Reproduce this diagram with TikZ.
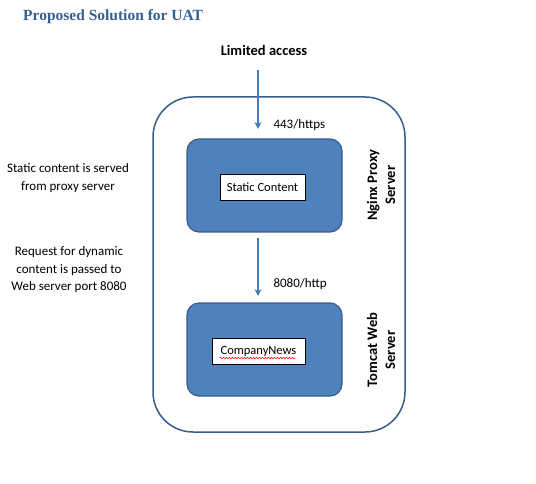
\documentclass[tikz,border=0pt]{standalone}
\usepackage{fontspec}
\setmainfont{Carlito}
\newfontfamily\titlefont{Liberation Serif}
\usetikzlibrary{arrows.meta,positioning,decorations.pathmorphing}
\definecolor{officeblue}{RGB}{79,129,189}
\definecolor{darkblue}{RGB}{56,93,138}
\definecolor{arrowblue}{RGB}{74,126,187}
\definecolor{titleblue}{RGB}{54,95,145}

\begin{document}
\begin{tikzpicture}[x=1pt,y=-1pt,
    server/.style={draw=darkblue,line width=1.2pt,fill=officeblue,rounded corners=12pt,minimum width=155pt,minimum height=93pt},
    content/.style={draw=black,line width=0.8pt,fill=white,minimum height=26pt,inner sep=0pt,font=\fontsize{12.5}{14}\selectfont},
    srvlabel/.style={rotate=90,align=center,font=\fontsize{14.5}{18}\selectfont\bfseries},
    port/.style={anchor=west,font=\fontsize{13}{15}\selectfont},
    note/.style={align=center,font=\fontsize{13}{17.5}\selectfont},
    flow/.style={draw=arrowblue,line width=1.6pt,-{Stealth[length=7pt,width=7pt]}}]
    \useasboundingbox (0,0) rectangle (536,484);

    % Title
    \node[anchor=west,inner sep=0pt,text=titleblue,font=\titlefont\fontsize{15.5}{17}\selectfont\bfseries] (title) at (23,17) {Proposed Solution for UAT};
    \node[font=\fontsize{14.5}{16}\selectfont\bfseries] (access) at (264,50) {Limited access};

    % Outer frame
    \node[draw=darkblue,line width=1.5pt,rounded corners=40pt,minimum width=252pt,minimum height=335pt] (frame) at (279,264.5) {};

    % Servers
    \node[server] (nginx) at (264.5,185.5) {};
    \node[content,minimum width=85pt] (static) at (262.5,187) {Static Content};
    \node[server] (tomcat) at (264.5,349.5) {};
    \node[content,minimum width=93pt] (news) at (258.5,351) {CompanyNews};
    \draw[red,line width=0.5pt,decorate,decoration={snake,amplitude=0.7pt,segment length=3pt}] ([xshift=-39pt,yshift=-7pt]news.center) -- ([xshift=37pt,yshift=-7pt]news.center);

    \node[srvlabel] (nginxlbl) at (381,185) {Nginx Proxy\\Server};
    \node[srvlabel] (tomcatlbl) at (381,350) {Tomcat Web\\Server};

    % Connections
    \coordinate (in1) at (258,70);
    \coordinate (in2) at (258,129);
    \coordinate (out1) at (258,238);
    \coordinate (out2) at (258,296);
    \draw[flow] (in1) -- (in2);
    \draw[flow] (out1) -- (out2);
    \node[port] (https) at (270,125) {443/https};
    \node[port] (http) at (270,284) {8080/http};

    % Notes
    \node[note] (note1) at (68,178) {Static content is served\\from proxy server};
    \node[note] (note2) at (69,270) {Request for dynamic\\content is passed to\\Web server port 8080};
\end{tikzpicture}
\end{document}
